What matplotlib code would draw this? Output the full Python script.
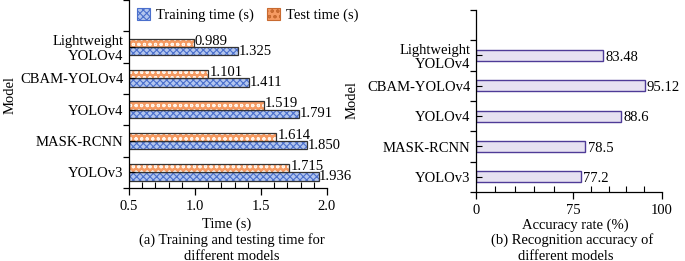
import matplotlib
matplotlib.use("Agg")
import matplotlib.pyplot as plt
from matplotlib.patches import Patch
import numpy as np

models = ["YOLOv3", "MASK-RCNN", "YOLOv4", "CBAM-YOLOv4", "Lightweight\nYOLOv4"]
train_time = [1.936, 1.850, 1.791, 1.411, 1.325]
test_time = [1.715, 1.614, 1.519, 1.101, 0.989]
accuracy = [77.2, 78.5, 88.6, 95.12, 83.48]
acc_labels = ["77.2", "78.5", "88.6", "95.12", "83.48"]

plt.rcParams['font.family'] = ['Liberation Serif', 'DejaVu Serif']
plt.rcParams['font.size'] = 10.5
plt.rcParams['hatch.linewidth'] = 0.8

blue_fill = '#b3c6ee'
blue_hatch = '#4a6fcc'
orange_fill = '#f59a62'
orange_hatch = '#fff4ea'
purple_edge = '#4e3b97'
lav_fill = '#e6e1f1'

fig = plt.figure(figsize=(6.85, 2.61), dpi=100)
fig.patch.set_facecolor('white')

y = np.arange(len(models))
h = 0.27
off = 0.135

# ---- (a) times
ax1 = fig.add_axes([129 / 685, 1 - 188 / 261, 198 / 685, 188 / 261])
left0 = 0.5
tr = np.array(train_time) - left0
te = np.array(test_time) - left0
ax1.barh(y - off, tr, h, left=left0, color=blue_fill, hatch='xxxxx', edgecolor=blue_hatch, linewidth=0)
ax1.barh(y - off, tr, h, left=left0, fill=False, edgecolor='#333333', linewidth=0.9)
ax1.barh(y + off, te, h, left=left0, color=orange_fill, hatch='ooo', edgecolor=orange_hatch, linewidth=0)
ax1.barh(y + off, te, h, left=left0, fill=False, edgecolor='#333333', linewidth=0.9)
for i in range(len(models)):
    ax1.text(train_time[i] + 0.005, y[i] - off, '%.3f' % train_time[i], va='center', ha='left')
    ax1.text(test_time[i] + 0.01, y[i] + off + 0.05, '%.3f' % test_time[i], va='center', ha='left')
ax1.set_xlim(0.5, 2.0)
ax1.set_xticks([0.5, 1.0, 1.5, 2.0])
ax1.set_xticklabels(['0.5', '1.0', '1.5', '2.0'])
ax1.set_xticks(np.arange(0.5, 2.01, 0.1), minor=True)

# ---- (b) accuracy, axis compressed below 75
def fwd(x):
    x = np.asarray(x, dtype=float)
    return np.where(x <= 75, x * 97 / 75, 97 + (x - 75) * 89 / 25)

def inv(v):
    v = np.asarray(v, dtype=float)
    return np.where(v <= 97, v * 75 / 97, 75 + (v - 97) * 25 / 89)

ax2 = fig.add_axes([476 / 685, 1 - 192 / 261, 186 / 685, 182 / 261])
ax2.set_xscale('function', functions=(fwd, inv))
ax2.barh(y, accuracy, 0.36, color=lav_fill, edgecolor=purple_edge, linewidth=1.0)
for i in range(len(models)):
    ax2.text(accuracy[i] + 0.6, y[i] - 0.05, acc_labels[i], va='center', ha='left')
ax2.set_xlim(0, 100)
ax2.set_xticks([0, 75, 100])
ax2.set_xticklabels(['0', '75', '100'])
ax2.set_xticks([15, 30, 45, 60, 80, 85, 90, 95], minor=True)

for ax in (ax1, ax2):
    ax.set_ylim(-0.5, 5.5)
    ax.set_yticks(np.arange(-0.5, 5.6, 1.0))
    ax.set_yticklabels([])
    ax.set_yticks(y, minor=True)
    ax.set_yticklabels(models, minor=True, linespacing=1.15)
    ax.spines['top'].set_visible(False)
    ax.spines['right'].set_visible(False)
    ax.spines['left'].set_linewidth(0.9)
    ax.spines['bottom'].set_linewidth(0.9)
    ax.tick_params(axis='x', which='major', direction='out', length=5, width=0.9, pad=4)
    ax.tick_params(axis='x', which='minor', direction='in', length=4, width=0.8)
    ax.tick_params(axis='y', which='major', direction='out', length=4, width=0.9)
    ax.tick_params(axis='y', which='minor', direction='in', length=4, width=0.8, pad=4)
    ax.set_facecolor('none')

fig.text(10 / 685, 1 - 95 / 261, 'Model', rotation=90, ha='center', va='center')
fig.text(352 / 685, 1 - 100 / 261, 'Model', rotation=90, ha='center', va='center')

fig.text(227 / 685, 1 - 224 / 261, 'Time (s)', ha='center', va='center')
fig.text(232 / 685, 1 - 240 / 261, '(a) Training and testing time for', ha='center', va='center')
fig.text(232 / 685, 1 - 256 / 261, 'different models', ha='center', va='center')
fig.text(575 / 685, 1 - 225 / 261, 'Accuracy rate (%)', ha='center', va='center')
fig.text(572 / 685, 1 - 240 / 261, '(b) Recognition accuracy of', ha='center', va='center')
fig.text(566 / 685, 1 - 256 / 261, 'different models', ha='center', va='center')

handles = [Patch(facecolor=blue_fill, edgecolor=blue_hatch, hatch='xxxxx', linewidth=0.8),
           Patch(facecolor=orange_fill, edgecolor='#c86a30', hatch='ooo', linewidth=0.8)]
fig.legend(handles, ['Training time (s)', 'Test time (s)'], loc='upper left',
           bbox_to_anchor=(124 / 685, 1.02), ncol=2, frameon=False,
           handlelength=0.9, handleheight=0.9, handletextpad=0.4, columnspacing=0.9)

fig.savefig('out.png', dpi=100)
